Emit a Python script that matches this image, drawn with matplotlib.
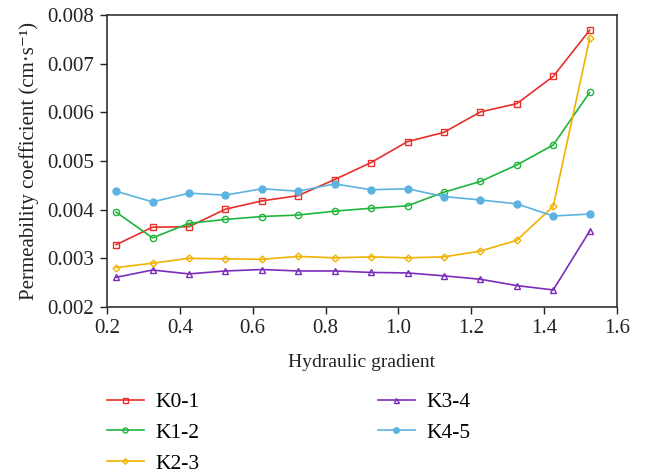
import matplotlib
matplotlib.use("Agg")
import matplotlib.pyplot as plt
from matplotlib.lines import Line2D

plt.rcParams['font.family'] = ['Liberation Serif', 'DejaVu Serif']

gradient = [0.225, 0.325, 0.425, 0.525, 0.625, 0.725, 0.825, 0.925, 1.025, 1.125, 1.225, 1.325, 1.425, 1.525]
k01 = [0.00328, 0.00364, 0.00365, 0.00401, 0.00418, 0.00429, 0.00462, 0.00497, 0.00540, 0.00559, 0.00601, 0.00618, 0.00674, 0.00769]
k12 = [0.00395, 0.00342, 0.00372, 0.00380, 0.00386, 0.00389, 0.00397, 0.00403, 0.00408, 0.00436, 0.00458, 0.00492, 0.00533, 0.00641]
k23 = [0.00281, 0.00290, 0.00300, 0.00299, 0.00298, 0.00304, 0.00301, 0.00303, 0.00301, 0.00303, 0.00315, 0.00337, 0.00407, 0.00752]
k34 = [0.00261, 0.00276, 0.00268, 0.00274, 0.00277, 0.00274, 0.00274, 0.00271, 0.00270, 0.00264, 0.00257, 0.00244, 0.00235, 0.00356]
k45 = [0.00438, 0.00416, 0.00434, 0.00430, 0.00443, 0.00438, 0.00453, 0.00441, 0.00443, 0.00427, 0.00420, 0.00412, 0.00387, 0.00391]
labels = ["K0-1", "K1-2", "K2-3", "K3-4", "K4-5"]
xticks = [0.2, 0.4, 0.6, 0.8, 1.0, 1.2, 1.4, 1.6]
yticks = [0.002, 0.003, 0.004, 0.005, 0.006, 0.007, 0.008]

fig = plt.figure(figsize=(6.67, 4.73), dpi=100)
ax = fig.add_axes([0.1604, 0.351, 0.7646, 0.617])

styles = [
    dict(color="#e8302a", marker="s", mfc="none", ms=4.5),
    dict(color="#1fb53c", marker="o", mfc="none", ms=4.5),
    dict(color="#f2b200", marker="D", mfc="none", ms=3.5),
    dict(color="#7a2cbb", marker="^", mfc="none", ms=4.5),
    dict(color="#5cb3e0", marker="o", mfc="#5cb3e0", ms=5),
]
series = [k01, k12, k23, k34, k45]
handles = []
for s, lab, st in zip(series, labels, styles):
    ax.plot(gradient, s, lw=1.2, mew=1.0, color=st["color"], marker=st["marker"],
            mfc=st["mfc"], ms=st["ms"], label=lab)
    handles.append(Line2D([0], [0], color=st["color"], lw=1.2, marker=st["marker"],
                          mfc=st["mfc"], ms=st["ms"] * 0.8, mew=1.0))

ax.set_xlim(0.2, 1.6)
ax.set_ylim(0.002, 0.008)
ax.set_xticks(xticks)
ax.set_xticklabels([f"{v:.1f}" for v in xticks])
ax.set_yticks(yticks)
ax.set_yticklabels([f"{v:.3f}" for v in yticks])
ax.tick_params(direction="out", length=5, width=1, labelsize=15, colors="#222222",
               top=False, right=False, pad=4)
for sp in ax.spines.values():
    sp.set_color("#333333")
    sp.set_linewidth(1.2)
ax.set_xlabel("Hydraulic gradient", fontsize=14, color="#222222", labelpad=11)
ax.set_ylabel("Permeability coefficient (cm·s\u207b\u00b9)", fontsize=15, color="#222222", labelpad=6)

leg_kw = dict(loc="upper left", frameon=False, fontsize=15.5, handlelength=1.7,
              handletextpad=0.55, labelspacing=0.5, borderpad=0, borderaxespad=0)
leg1 = fig.legend(handles[:3], labels[:3], bbox_to_anchor=(107 / 667, 1 - 392 / 473), **leg_kw)
leg2 = fig.legend(handles[3:], labels[3:], bbox_to_anchor=(378 / 667, 1 - 392 / 473), **leg_kw)

fig.savefig("out.png", dpi=100)
